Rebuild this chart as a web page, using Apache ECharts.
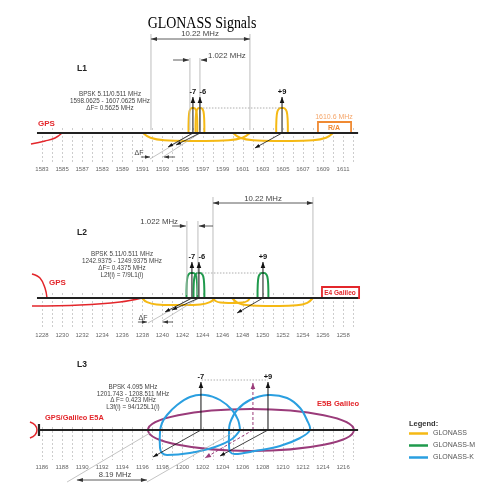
<!DOCTYPE html>
<html><head><meta charset="utf-8">
<script src="https://cdn.jsdelivr.net/npm/echarts@6.0.0/dist/echarts.min.js"></script>
<style>html,body{margin:0;padding:0;background:#fff}#chart{width:492px;height:500px}</style>
</head><body><div id="chart"></div>
<script>
// ===== DATA =====  x = tick-slot index along each band axis, y = relative level (0 = band axis)
const TITLE = 'GLONASS Signals';
const L1_TICKS = ['1583','1585','1587','1583','1589','1591','1593','1595','1597','1599','1601','1603','1605','1607','1609','1611'];
const L2_TICKS = ['1228','1230','1232','1234','1236','1238','1240','1242','1244','1246','1248','1250','1252','1254','1256','1258'];
const L3_TICKS = ['1186','1188','1190','1192','1194','1196','1198','1200','1202','1204','1206','1208','1210','1212','1214','1216'];

const L1_CHANNELS = ['-7', '-6', '+9'];
const L1_CH_POS = [7.52, 7.87, 11.96];
const L1_HUMP_HALF = [0.22, 0.22, 0.29];
const L2_CHANNELS = ['-7', '-6', '+9'];
const L2_CH_POS = [7.47, 7.82, 11.01];
const L2_HUMP_HALF = [0.27, 0.27, 0.27];
const L3_CHANNELS = ['-7', '+9'];
const L3_CH_POS = [7.92, 11.26];
const HUMP_LEVEL = 25;
const ARROW_LEVEL = 36;
const L3_ARROW_LEVEL = 48;

// main-lobe outline (unit half width, unit height) and flat side-lobe outline (0..1 along, depth)
const HUMP_SHAPE = [[-1,0],[-0.97,0.5],[-0.8,0.86],[-0.42,0.99],[0,1],[0.42,0.99],[0.8,0.86],[0.97,0.5],[1,0]];
const LOBE_SHAPE = [[0,0],[0.07,-0.6],[0.2,-0.92],[0.5,-1],[0.8,-0.92],[0.93,-0.6],[1,0]];
const L1_LOBES = [[5.03, 10.36, 8], [9.52, 14.5, 8]];
const L2_LOBES = [[4.98, 8.62, 7], [8.52, 10.36, 5], [9.47, 13.5, 8]];

const L1_GPS = [[-0.55,-11],[0.15,-8],[0.65,-5],[1.0,0]];
const L2_GPS_UP = [[-0.5,24],[-0.1,20],[0.15,10],[0.25,0]];
const L2_GPS_LOW = [[-0.5,-8],[1.89,-7],[3.89,-4],[4.98,0]];
const L3_GPS = [[-0.6,8],[-0.35,5],[-0.25,0],[-0.35,-5],[-0.6,-8]];

const L3_LOBE_M7 = [[9.87,0],[9.77,10],[9.47,20],[8.87,30],[8.12,35],[7.37,33],[6.73,25],[6.23,15],[5.98,7],[5.88,-2],[5.88,-18],[5.98,-23],[6.23,-25],[7.37,-23],[8.62,-17],[9.47,-9],[9.87,0]];
const L3_LOBE_P9 = [[9.32,-2],[9.37,7],[9.72,20],[10.36,30],[11.26,35],[12.21,32],[12.86,22],[13.2,10],[13.35,0],[12.86,-8],[11.86,-16],[10.61,-21],[9.62,-24],[9.37,-22],[9.32,-16],[9.32,-2]];
const L3_E5B = [10.41, 0, 5.13, 21];   // centre x, centre y, half width (slots), half height (level)

const L1_RA_BOX = [13.75, 0, 15.4, 11];
const L2_E4_BOX = [13.95, 0, 15.8, 11];

// ===== helpers =====
const FONT = 'Liberation Sans';
const C = {yellow:'#f5b914', green:'#1f9a4c', blue:'#2a9fe0', mag:'#9a3b7a', red:'#e3262b', orange:'#f08a32', grey:'#bdbdbd', dark:'#222'};

function hump(c, half, h) { return HUMP_SHAPE.map(p => [c + p[0] * half, p[1] * h]); }
function lobe(l) { return LOBE_SHAPE.map(p => [l[0] + p[0] * (l[1] - l[0]), p[1] * l[2]]); }

function polySeries(g, name, paths, color, width, o) {
  o = o || {};
  return {
    type: 'custom', name: name, xAxisIndex: g, yAxisIndex: g, clip: false, silent: true, z: o.z || 2,
    itemStyle: {color: color},
    data: paths.map(() => [1, 0]),
    renderItem: function (params, api) {
      const pts = paths[params.dataIndex].map(p => api.coord(p));
      return {type: 'polyline', shape: {points: pts, smooth: o.smooth || 0},
        style: {stroke: color, lineWidth: width, fill: null, lineDash: o.dash || null}};
    }
  };
}
function head(tip, from, L, W, color) {
  const dx = tip[0] - from[0], dy = tip[1] - from[1], d = Math.hypot(dx, dy) || 1;
  const ux = dx / d, uy = dy / d, bx = tip[0] - ux * L, by = tip[1] - uy * L;
  return {type: 'polygon', shape: {points: [tip, [bx - uy * W, by + ux * W], [bx + uy * W, by - ux * W]]}, style: {fill: color}};
}
function arrowSeries(g, arrows, color, width, o) {
  o = o || {};
  return {
    type: 'custom', xAxisIndex: g, yAxisIndex: g, clip: false, silent: true, z: o.z || 3,
    data: arrows.map(() => [1, 0]),
    renderItem: function (params, api) {
      const s = arrows[params.dataIndex];
      const a = api.coord([s[0], s[1]]), b = api.coord([s[2], s[3]]);
      const kids = [{type: 'line', shape: {x1: a[0], y1: a[1], x2: b[0], y2: b[1]},
        style: {stroke: color, lineWidth: width, lineDash: o.dash || null}}];
      if (o.head !== false) kids.push(head(b, a, o.L || 5, o.W || 2, color));
      if (o.both) kids.push(head(a, b, o.L || 5, o.W || 2, color));
      if (o.labels) kids.push({type: 'text', x: b[0] + (o.labelDx ? o.labelDx[params.dataIndex] : 0), y: b[1] - 1,
        style: {text: o.labels[params.dataIndex], font: 'bold 7.5px ' + FONT, fill: '#111', align: 'center', verticalAlign: 'bottom'}});
      return {type: 'group', children: kids};
    }
  };
}
function boxSeries(g, box, color) {
  return {
    type: 'custom', xAxisIndex: g, yAxisIndex: g, clip: false, silent: true, z: 2,
    data: [[1, 0]],
    renderItem: function (params, api) {
      const a = api.coord([box[0], box[1]]), b = api.coord([box[2], box[3]]);
      return {type: 'rect', shape: {x: a[0], y: b[1], width: b[0] - a[0], height: a[1] - b[1]},
        style: {stroke: color, lineWidth: 1.8, fill: '#fff'}};
    }
  };
}
function ellipseSeries(g, name, e, color) {
  return {
    type: 'custom', name: name, xAxisIndex: g, yAxisIndex: g, clip: false, silent: true, z: 2,
    itemStyle: {color: color}, data: [[1, 0]],
    renderItem: function (params, api) {
      const c = api.coord([e[0], e[1]]), r = api.coord([e[0] + e[2], e[1] + e[3]]);
      return {type: 'ellipse', shape: {cx: c[0], cy: c[1], rx: r[0] - c[0], ry: c[1] - r[1]},
        style: {stroke: color, lineWidth: 2, fill: null}};
    }
  };
}
// dashed frequency grid lines under each band axis (one per half tick slot)
function gridLineSeries(g, top, bottom) {
  const xs = [];
  for (let k = 0; k <= 31; k++) xs.push(k * 0.5);
  return {
    type: 'custom', xAxisIndex: g, yAxisIndex: g, clip: false, silent: true, z: 1,
    data: xs.map(() => [1, 0]),
    renderItem: function (params, api) {
      const a = api.coord([xs[params.dataIndex], top]), b = api.coord([xs[params.dataIndex], bottom]);
      return {type: 'line', shape: {x1: Math.round(a[0]) + 0.5, y1: a[1], x2: Math.round(b[0]) + 0.5, y2: b[1]},
        style: {stroke: '#cdcdcd', lineWidth: 1, lineDash: [2, 2]}};
    }
  };
}
function T(x, y, text, size, o) {
  o = o || {};
  return {type: 'text', x: x, y: y, silent: true, z: 100, scaleX: o.sx || 1,
    style: {text: text, font: (o.bold ? 'bold ' : '') + size + 'px ' + (o.family || FONT),
      fill: o.color || '#444', align: o.align || 'center', verticalAlign: 'middle'}};
}

// ===== layout =====
const AXIS_Y = [133, 298, 430];
const YMAX = [105, 105, 60];
const SLOT_PX = 20.07;
const TICKS = [L1_TICKS, L2_TICKS, L3_TICKS];
const grids = [], xAxes = [], yAxes = [];
for (let i = 0; i < 3; i++) {
  grids.push({left: 42, width: 15.5 * SLOT_PX, top: AXIS_Y[i] - YMAX[i], height: YMAX[i] + 30});
  xAxes.push({gridIndex: i, type: 'value', min: 0, max: 15.5, interval: 0.5, position: 'bottom',
    axisLine: {show: false}, splitLine: {show: false}, axisTick: {show: false},
    axisLabel: {show: true, margin: i === 0 ? 3 : 4, fontSize: 6, fontFamily: FONT, color: '#666',
      formatter: (v) => (Number.isInteger(v) && TICKS[i][v] !== undefined) ? TICKS[i][v] : ''}});
  yAxes.push({gridIndex: i, type: 'value', min: -30, max: YMAX[i], show: false});
}

const series = [];
// ---- L1 ----
series.push(gridLineSeries(0, 5, -30));
series.push(polySeries(0, 'GLONASS', L1_LOBES.map(lobe), C.yellow, 2, {smooth: 0.4}));
series.push(polySeries(0, 'GLONASS', L1_CH_POS.map((c, k) => hump(c, L1_HUMP_HALF[k], HUMP_LEVEL)), C.yellow, 2, {smooth: 0.4}));
series.push(polySeries(0, 'gps1', [L1_GPS], C.red, 1.5, {smooth: 0.4}));
series.push(boxSeries(0, L1_RA_BOX, C.orange));
series.push(polySeries(0, 'axis1', [[[-0.25, 0], [15.75, 0]]], C.dark, 2.2, {z: 4}));
series.push(polySeries(0, 'dim1', [[[5.43, 99], [5.43, 3]], [[10.36, 99], [10.36, 3]], [[7.37, 75], [7.37, 3]], [[7.87, 75], [7.87, 3]]], C.grey, 1));
series.push(polySeries(0, 'dot1', [[[L1_CH_POS[1], HUMP_LEVEL], [L1_CH_POS[2], HUMP_LEVEL]]], '#999', 0.8, {dash: [1.5, 1.5]}));
series.push(polySeries(0, 'ext1', [[[7.52, 0], [5.38, -26]], [[7.87, 0], [6.03, -24]]], '#aaa', 0.7));
series.push(arrowSeries(0, [[5.43, 94, 10.36, 94]], '#333', 0.8, {both: true, L: 6, W: 2}));
series.push(arrowSeries(0, [[6.53, 73, 7.32, 73], [8.22, 73, 7.92, 73]], '#333', 0.8, {L: 6, W: 2}));
series.push(arrowSeries(0, L1_CH_POS.map(c => [c, 0, c, ARROW_LEVEL]), '#111', 1, {labels: L1_CHANNELS, labelDx: [0, 3, 0], L: 6, W: 2.3}));
series.push(arrowSeries(0, [[7.52, 0, 6.28, -14], [7.87, 0, 6.68, -12], [11.96, 0, 10.61, -15]], '#111', 0.8, {L: 5, W: 1.8}));
series.push(arrowSeries(0, [[4.93, -24, 5.38, -24], [6.63, -24, 6.08, -24]], '#333', 0.8, {L: 5, W: 1.8}));
// ---- L2 ----
series.push(gridLineSeries(1, 5, -30));
series.push(polySeries(1, 'GLONASS', L2_LOBES.map(lobe), C.yellow, 2, {smooth: 0.4}));
series.push(polySeries(1, 'GLONASS-M', L2_CH_POS.map((c, k) => hump(c, L2_HUMP_HALF[k], HUMP_LEVEL)), C.green, 2, {smooth: 0.4}));
series.push(polySeries(1, 'gps2', [L2_GPS_UP, L2_GPS_LOW], C.red, 1.5, {smooth: 0.4}));
series.push(boxSeries(1, L2_E4_BOX, C.red));
series.push(polySeries(1, 'axis2', [[[-0.25, 0], [15.75, 0]]], C.dark, 2.2, {z: 4}));
series.push(polySeries(1, 'dim2', [[[8.52, 101], [8.52, 3]], [[13.5, 101], [13.5, 3]], [[7.22, 77], [7.22, 3]], [[7.77, 77], [7.77, 3]]], C.grey, 1));
series.push(polySeries(1, 'dot2', [[[L2_CH_POS[1], HUMP_LEVEL], [L2_CH_POS[2], HUMP_LEVEL]]], '#999', 0.8, {dash: [1.5, 1.5]}));
series.push(polySeries(1, 'ext2', [[[7.47, 0], [5.28, -25]], [[7.82, 0], [5.98, -23]]], '#aaa', 0.7));
series.push(arrowSeries(1, [[8.52, 95, 13.5, 95]], '#333', 0.8, {both: true, L: 6, W: 2}));
series.push(arrowSeries(1, [[6.48, 72, 7.17, 72], [8.52, 72, 7.82, 72]], '#333', 0.8, {L: 6, W: 2}));
series.push(arrowSeries(1, L2_CH_POS.map(c => [c, 0, c, ARROW_LEVEL]), '#111', 1, {labels: L2_CHANNELS, labelDx: [0, 3, 0], L: 6, W: 2.3}));
series.push(arrowSeries(1, [[7.47, 0, 6.13, -14], [7.82, 0, 6.48, -12], [11.01, 0, 9.72, -15]], '#111', 0.8, {L: 5, W: 1.8}));
series.push(arrowSeries(1, [[4.78, -24, 5.23, -24], [6.53, -24, 6.03, -24]], '#333', 0.8, {L: 5, W: 1.8}));
// ---- L3 ----
series.push(gridLineSeries(2, 3, -30));
series.push(ellipseSeries(2, 'E5B', L3_E5B, C.mag));
series.push(polySeries(2, 'GLONASS-K', [L3_LOBE_M7, L3_LOBE_P9], C.blue, 2, {smooth: 0.35}));
series.push(polySeries(2, 'gps3', [L3_GPS], C.red, 1.5, {smooth: 0.4}));
series.push(polySeries(2, 'axis3', [[[-0.15, 0], [15.75, 0]], [[-0.15, 6], [-0.15, -6]]], C.dark, 2.2, {z: 4}));
series.push(polySeries(2, 'dot3', [[[7.95, 50], [11.26, 50]]], '#999', 0.8, {dash: [1.5, 1.5]}));
series.push(polySeries(2, 'ext3', [[[5.38, -3], [1.25, -52]], [[9.47, -3], [5.23, -52]]], '#aaa', 0.7));
series.push(arrowSeries(2, [[10.51, 0, 10.51, 47], [10.51, 0, 8.12, -28]], C.mag, 1, {dash: [3, 2], L: 6, W: 2.3}));
series.push(arrowSeries(2, L3_CH_POS.map(c => [c, 0, c, L3_ARROW_LEVEL]), '#111', 1, {labels: L3_CHANNELS, L: 6, W: 2.3}));
series.push(arrowSeries(2, [[7.92, 0, 5.53, -27], [11.26, 0, 8.87, -26]], '#111', 0.8, {L: 5, W: 1.8}));
series.push(arrowSeries(2, [[1.74, -50, 5.23, -50]], '#333', 0.8, {both: true, L: 6, W: 2}));

const graphics = [
  T(202, 24, TITLE, 16, {family: 'Liberation Serif', color: '#000', sx: 0.87}),
  T(77, 69, 'L1', 8.5, {bold: true, color: '#222', align: 'left'}),
  T(110, 94, 'BPSK 5.11/0.511 MHz', 6.3), T(110, 101, '1598.0625 - 1607.0625 MHz', 6.3), T(110, 108, 'ΔF= 0.5625 MHz', 6.3),
  T(200, 34, '10.22 MHz', 7.8), T(208, 56, '1.022 MHz', 7.8, {align: 'left'}),
  T(38, 124, 'GPS', 8, {bold: true, color: C.red, align: 'left'}),
  T(139, 153, 'ΔF', 7), T(334, 117, '1610.6 MHz', 7, {color: '#f5a66a'}), T(334, 128, 'R/A', 7, {bold: true, color: C.orange}),
  T(77, 233, 'L2', 8.5, {bold: true, color: '#222', align: 'left'}),
  T(122, 254, 'BPSK 5.11/0.511 MHz', 6.3), T(122, 261, '1242.9375 - 1249.9375 MHz', 6.3), T(122, 268, 'ΔF= 0.4375 MHz', 6.3), T(122, 275, 'L2f(i) = 7/9L1(i)', 6.3),
  T(263, 199, '10.22 MHz', 7.8), T(178, 222, '1.022 MHz', 7.8, {align: 'right'}),
  T(49, 283, 'GPS', 8, {bold: true, color: C.red, align: 'left'}),
  T(340, 293, 'E4 Galileo', 6.5, {bold: true, color: C.red}),
  T(143, 318, 'ΔF', 7),
  T(77, 365, 'L3', 8.5, {bold: true, color: '#222', align: 'left'}),
  T(133, 387, 'BPSK 4.095 MHz', 6.3), T(133, 394, '1201.743 - 1208.511 MHz', 6.3), T(133, 400, 'Δ F= 0.423 MHz', 6.3), T(133, 407, 'L3f(i) = 94/125L1(i)', 6.3),
  T(45, 418, 'GPS/Galileo E5A', 7.4, {bold: true, color: C.red, align: 'left'}),
  T(317, 404, 'E5B Galileo', 7.6, {bold: true, color: C.red, align: 'left'}),
  T(115, 475, '8.19 MHz', 7.6),
  T(409, 424, 'Legend:', 7.5, {bold: true, color: '#333', align: 'left'})
];

const chart = echarts.init(document.getElementById('chart'), null, {renderer: 'canvas'});
chart.setOption({
  animation: false,
  backgroundColor: '#fff',
  grid: grids, xAxis: xAxes, yAxis: yAxes,
  legend: {data: ['GLONASS', 'GLONASS-M', 'GLONASS-K'], orient: 'vertical', left: 409, top: 430, padding: 0,
    icon: 'rect', itemWidth: 19, itemHeight: 2.5, itemGap: 5, selectedMode: false,
    textStyle: {fontSize: 7, fontFamily: FONT, color: '#555'}},
  graphic: graphics,
  series: series
});
</script></body></html>
